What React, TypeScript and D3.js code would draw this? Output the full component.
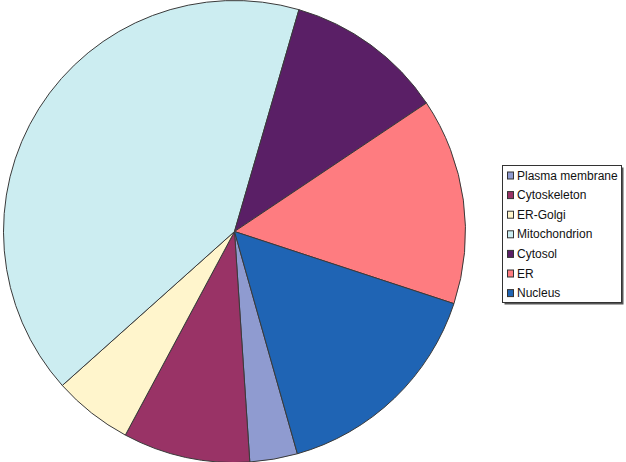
import React from "react";
import * as d3 from "d3";

const categories = ["Plasma membrane", "Cytoskeleton", "ER-Golgi", "Mitochondrion", "Cytosol", "ER", "Nucleus"];
const values = [3, 8, 5, 37, 10, 13, 14];
const colors = ["#8f9bd0", "#993366", "#fff5cc", "#ccedf1", "#5a1f66", "#fe7c80", "#1f64b4"];

const W = 626, H = 462;
const cx = 234.5, cy = 231.5, R = 231;
const startDeg = 164.2;

export default function App() {
  const pie = d3.pie<number>().sort(null).value((d) => d)
    .startAngle((startDeg * Math.PI) / 180)
    .endAngle(((startDeg + 360) * Math.PI) / 180);
  const arcs = pie(values);
  const arc = d3.arc<d3.PieArcDatum<number>>().innerRadius(0).outerRadius(R);
  const legendX = 502.5, legendY = 165.5, legendW = 119, legendH = 137;
  const rowH = 19.6;
  return (
    <svg width={W} height={H} style={{ position: "absolute", left: 0, top: 0, background: "#fff" }}>
      <g transform={`translate(${cx},${cy})`}>
        {arcs.map((a, i) => (
          <path key={i} d={arc(a) || ""} fill={colors[i]} stroke="#3a3a3a" strokeWidth={1} strokeLinejoin="round" />
        ))}
      </g>
      <rect x={legendX + 2} y={legendY + 2} width={legendW} height={legendH} fill="#555" />
      <rect x={legendX} y={legendY} width={legendW} height={legendH} fill="#fff" stroke="#333" strokeWidth={1} />
      {categories.map((c, i) => {
        const y = legendY + 10 + i * rowH;
        return (
          <g key={c}>
            <rect x={507.5} y={y - 3.5} width={6} height={7} fill={colors[i]} stroke="#333" strokeWidth={1} />
            <text x={517} y={y} dominantBaseline="central" fontFamily="Liberation Sans, Arial, sans-serif" fontSize={12} fill="#111">
              {c}
            </text>
          </g>
        );
      })}
    </svg>
  );
}
